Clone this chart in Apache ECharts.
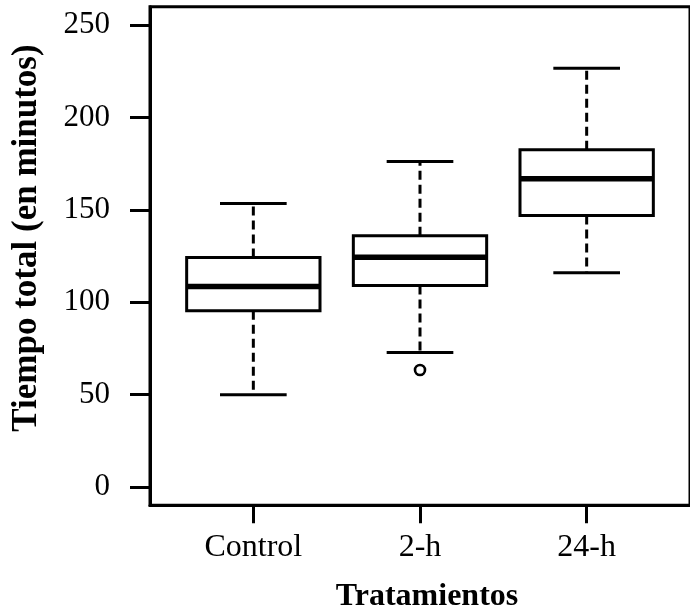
<!DOCTYPE html>
<html>
<head>
<meta charset="utf-8">
<script src="https://cdn.jsdelivr.net/npm/echarts@6/dist/echarts.min.js"></script>
<style>
html,body{margin:0;padding:0;background:#fff;}
#chart{width:690px;height:613px;}
</style>
</head>
<body>
<div id="chart"></div>
<script>
const categories = ['Control', '2-h', '24-h'];
const lowerWhisker = [49.9, 72.8, 115.9];
const lowerQuartile = [95.4, 109.0, 147.0];
const medians = [108.5, 124.4, 166.8];
const upperQuartile = [124.2, 136.0, 182.6];
const upperWhisker = [153.5, 176.2, 226.7];
const outlierGroup = ['2-h'];
const outlierValue = [63.3];
const yTicks = [0, 50, 100, 150, 200, 250];
const xTitle = 'Tratamientos';
const yTitle = 'Tiempo total (en minutos)';

const boxData = categories.map((c, i) => [i + 1, lowerWhisker[i], lowerQuartile[i], medians[i], upperQuartile[i], upperWhisker[i]]);
const outlierData = outlierGroup.map((g, i) => [categories.indexOf(g) + 1, outlierValue[i]]);

const serif = "'Liberation Serif', 'Times New Roman', serif";

function renderBox(params, api) {
  const x = api.value(0);
  const low = api.coord([x, api.value(1)]);
  const q1 = api.coord([x, api.value(2)]);
  const med = api.coord([x, api.value(3)]);
  const q3 = api.coord([x, api.value(4)]);
  const high = api.coord([x, api.value(5)]);
  const hw = api.size([0.8, 0])[0] / 2;
  const cw = api.size([0.4, 0])[0] / 2;
  const cx = low[0];
  const lineStyle = { stroke: '#000', lineWidth: 3, fill: null };
  const dashStyle = { stroke: '#000', lineWidth: 3, lineDash: [9, 5], fill: null };
  return {
    type: 'group',
    children: [
      { type: 'line', shape: { x1: cx, y1: q1[1], x2: cx, y2: low[1] }, style: dashStyle },
      { type: 'line', shape: { x1: cx, y1: q3[1], x2: cx, y2: high[1] }, style: dashStyle },
      { type: 'line', shape: { x1: cx - cw, y1: low[1], x2: cx + cw, y2: low[1] }, style: lineStyle },
      { type: 'line', shape: { x1: cx - cw, y1: high[1], x2: cx + cw, y2: high[1] }, style: lineStyle },
      { type: 'rect', shape: { x: cx - hw, y: q3[1], width: 2 * hw, height: q1[1] - q3[1] }, style: { stroke: '#000', lineWidth: 3, fill: '#fff' } },
      { type: 'line', shape: { x1: cx - hw, y1: med[1], x2: cx + hw, y2: med[1] }, style: { stroke: '#000', lineWidth: 5.5 } }
    ]
  };
}

function renderOutlier(params, api) {
  const p = api.coord([api.value(0), api.value(1)]);
  return { type: 'circle', shape: { cx: p[0], cy: p[1], r: 5 }, style: { stroke: '#000', lineWidth: 2.6, fill: '#fff' } };
}

const chart = echarts.init(document.getElementById('chart'), null, { renderer: 'canvas' });
chart.setOption({
  backgroundColor: '#fff',
  animation: false,
  grid: { left: 150, top: 6.8, width: 551, height: 498.5, show: true, borderColor: '#000', borderWidth: 3, backgroundColor: 'transparent' },
  xAxis: {
    type: 'value', min: 0.38, max: 3.62,
    splitLine: { show: false },
    axisLine: { show: true, onZero: false, lineStyle: { color: '#000', width: 3 } },
    axisTick: { show: true, customValues: [1, 2, 3], length: 18, lineStyle: { color: '#000', width: 3 } },
    axisLabel: { customValues: [1, 2, 3], formatter: v => categories[Math.round(v) - 1], margin: 26, fontSize: 32, fontFamily: serif, color: '#000' }
  },
  yAxis: {
    type: 'value', min: -10, max: 260,
    splitLine: { show: false },
    axisLine: { show: true, onZero: false, lineStyle: { color: '#000', width: 3 } },
    axisTick: { show: true, customValues: yTicks, length: 20, lineStyle: { color: '#000', width: 3 } },
    axisLabel: { customValues: yTicks, margin: 40, fontSize: 31, fontFamily: serif, color: '#000' }
  },
  graphic: [
    { type: 'text', x: 427, y: 597, style: { text: xTitle, font: "bold 32px " + serif, fill: '#000', align: 'center', verticalAlign: 'middle' } },
    { type: 'text', x: 27, y: 238, rotation: Math.PI / 2, style: { text: yTitle, font: "bold 35px " + serif, fill: '#000', align: 'center', verticalAlign: 'middle' } }
  ],
  series: [
    { type: 'custom', renderItem: renderBox, data: boxData, encode: { x: 0, y: [1, 2, 3, 4, 5] }, silent: true, z: 2 },
    { type: 'custom', renderItem: renderOutlier, data: outlierData, encode: { x: 0, y: 1 }, silent: true, z: 5 }
  ]
});
</script>
</body>
</html>
